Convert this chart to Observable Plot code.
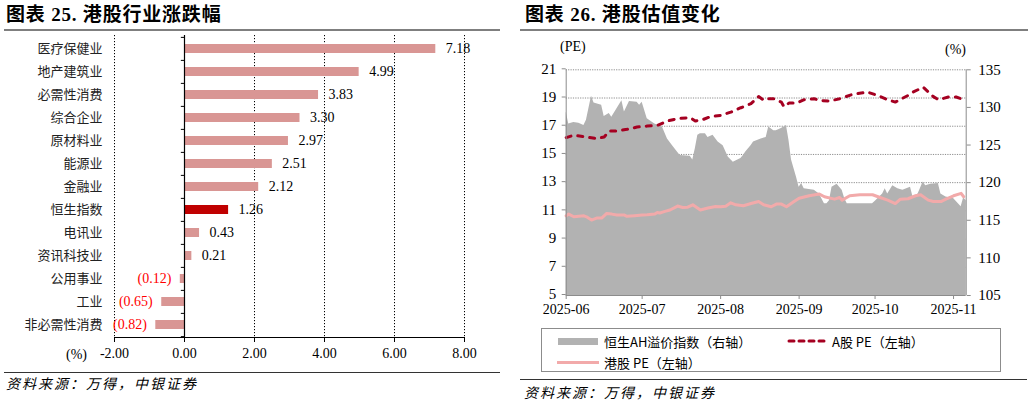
<!DOCTYPE html>
<html><head><meta charset="utf-8">
<script src="https://cdn.jsdelivr.net/npm/d3@7"></script>
<script src="https://cdn.jsdelivr.net/npm/@observablehq/plot@0.6"></script>
<style>
html,body{margin:0;padding:0;background:#fff;}
#page{position:relative;width:1032px;height:405px;overflow:hidden;background:#fff;font-family:"Noto Sans CJK SC",sans-serif;}
.abs{position:absolute;white-space:nowrap;}
.title{font-family:"Liberation Serif","Noto Sans CJK SC",serif;font-weight:bold;font-size:19px;letter-spacing:0.8px;color:#000;line-height:19px;}
.hr{position:absolute;height:0;}
.cap{font-family:"Noto Sans CJK SC",sans-serif;font-style:italic;font-size:14px;letter-spacing:2px;color:#000;line-height:14px;}
.serif{font-family:"Liberation Serif",serif;font-size:14px;color:#000;line-height:14px;}
#legend{position:absolute;left:541px;top:328px;width:460px;height:44px;border:1px solid #8c8c8c;box-sizing:border-box;}
.lg{position:absolute;font-size:13px;line-height:13px;color:#000;white-space:nowrap;}
</style></head>
<body><div id="page">
<div id="leftChart" class="abs" style="left:0;top:0"></div>
<div id="rightChart" class="abs" style="left:520px;top:33px"></div>
<div class="abs title" style="left:6px;top:5px">图表 25. 港股行业涨跌幅</div>
<div class="abs title" style="left:525px;top:5px">图表 26. 港股估值变化</div>
<div class="hr" style="left:4px;top:29px;width:496px;border-top:2px solid #7f7f7f"></div>
<div class="hr" style="left:520px;top:29px;width:508px;border-top:2px solid #7f7f7f"></div>
<div class="abs serif" style="left:66px;top:348px">(%)</div>
<div class="abs serif" style="left:560px;top:40px">(PE)</div>
<div class="abs serif" style="left:945px;top:43px">(%)</div>
<div class="hr" style="left:4px;top:372px;width:496px;border-top:1px solid #333"></div>
<div class="hr" style="left:520px;top:379px;width:507px;border-top:1px solid #333"></div>
<div class="abs cap" style="left:6px;top:376px">资料来源：万得，中银证券</div>
<div class="abs cap" style="left:524px;top:385px">资料来源：万得，中银证券</div>
<div id="legend">
  <div class="abs" style="left:16px;top:9px;width:40px;height:7px;background:#b2b2b2"></div>
  <div class="lg" style="left:62px;top:6px">恒生AH溢价指数（右轴）</div>
  <svg class="abs" style="left:244px;top:8px" width="46" height="8"><line x1="3" y1="4" x2="43" y2="4" stroke="#a50021" stroke-width="3" stroke-dasharray="5,5" stroke-linecap="round"/></svg>
  <div class="lg" style="left:290px;top:6px">A股 PE（左轴）</div>
  <div class="abs" style="left:15px;top:32px;width:42px;height:3px;background:#f2aaaa"></div>
  <div class="lg" style="left:62px;top:27px">港股 PE（左轴）</div>
</div>
</div>
<script>
// ---------- Left chart data ----------
const industries = ["医疗保健业","地产建筑业","必需性消费","综合企业","原材料业","能源业","金融业","恒生指数","电讯业","资讯科技业","公用事业","工业","非必需性消费"];
const changes = [7.18,4.99,3.83,3.30,2.97,2.51,2.12,1.26,0.43,0.21,-0.12,-0.65,-0.82];
const highlight = "恒生指数";
const xTicksLeft = [-2,0,2,4,6,8];
const gridLeft = [-2,2,4,6,8];

// ---------- Right chart data ----------
const ahDates = ["2025-06-01","2025-06-02","2025-06-04","2025-06-06","2025-06-08","2025-06-09","2025-06-11","2025-06-12","2025-06-15","2025-06-16","2025-06-18","2025-06-19","2025-06-21","2025-06-23","2025-06-24","2025-06-26","2025-06-29","2025-06-30","2025-07-01","2025-07-03","2025-07-06","2025-07-09","2025-07-11","2025-07-13","2025-07-16","2025-07-20","2025-07-21","2025-07-22","2025-07-23","2025-07-24","2025-07-26","2025-07-27","2025-07-29","2025-07-31","2025-08-02","2025-08-04","2025-08-06","2025-08-09","2025-08-10","2025-08-11","2025-08-13","2025-08-14","2025-08-17","2025-08-19","2025-08-20","2025-08-22","2025-08-23","2025-08-25","2025-08-27","2025-08-28","2025-08-29","2025-08-31","2025-09-01","2025-09-02","2025-09-03","2025-09-07","2025-09-09","2025-09-11","2025-09-12","2025-09-13","2025-09-14","2025-09-16","2025-09-18","2025-09-19","2025-09-20","2025-09-30","2025-10-01","2025-10-04","2025-10-05","2025-10-06","2025-10-08","2025-10-10","2025-10-12","2025-10-15","2025-10-16","2025-10-18","2025-10-20","2025-10-21","2025-10-23","2025-10-26","2025-10-27","2025-10-29","2025-11-01","2025-11-04","2025-11-05","2025-11-06"];
const ahValues = [129.4,127.8,128.0,127.9,127.6,128.3,131.5,130.6,130.3,128.8,129.2,128.7,129.8,130.9,129.4,130.8,130.7,130.3,130.7,128.5,127.8,127.4,125.8,124.9,123.6,123.5,123.0,124.5,126.3,126.5,126.5,126.0,126.3,125.4,124.9,123.4,122.7,123.2,123.6,124.1,124.9,125.4,125.8,126.0,127.4,126.9,126.9,127.2,127.6,125.6,123.0,120.7,119.4,119.9,119.2,119.0,118.5,117.2,117.2,117.6,119.4,119.8,119.0,117.9,117.2,117.2,117.5,118.5,119.2,118.5,119.6,119.2,119.0,119.4,118.1,118.5,120.1,119.6,119.8,119.9,118.5,118.1,117.9,116.8,118.0,117.6];

const aDates = ["2025-06-01","2025-06-04","2025-06-09","2025-06-13","2025-06-16","2025-06-18","2025-06-21","2025-06-25","2025-06-29","2025-07-03","2025-07-07","2025-07-11","2025-07-15","2025-07-20","2025-07-22","2025-07-25","2025-07-28","2025-08-01","2025-08-05","2025-08-09","2025-08-13","2025-08-16","2025-08-18","2025-08-19","2025-08-22","2025-08-25","2025-08-26","2025-08-28","2025-08-31","2025-09-03","2025-09-07","2025-09-09","2025-09-13","2025-09-17","2025-09-22","2025-09-28","2025-10-02","2025-10-06","2025-10-09","2025-10-14","2025-10-16","2025-10-20","2025-10-24","2025-10-26","2025-10-30","2025-11-02","2025-11-05"];
const aPE = [16.19,16.36,16.24,16.12,16.24,16.66,16.66,16.78,16.94,17.01,17.06,17.37,17.54,17.61,17.37,17.47,17.68,17.77,18.0,18.31,18.6,19.1,18.85,18.95,18.95,18.71,18.38,18.64,18.64,18.88,18.95,18.83,18.78,18.95,19.25,19.42,19.18,18.88,18.71,19.18,19.42,19.77,19.1,18.88,19.07,19.07,18.88];

const hkDates = ["2025-06-01","2025-06-02","2025-06-04","2025-06-08","2025-06-09","2025-06-11","2025-06-13","2025-06-15","2025-06-17","2025-06-19","2025-06-21","2025-06-24","2025-06-25","2025-06-28","2025-07-01","2025-07-03","2025-07-06","2025-07-07","2025-07-08","2025-07-10","2025-07-12","2025-07-15","2025-07-17","2025-07-19","2025-07-21","2025-07-24","2025-07-27","2025-07-30","2025-08-01","2025-08-03","2025-08-05","2025-08-07","2025-08-10","2025-08-13","2025-08-16","2025-08-18","2025-08-21","2025-08-23","2025-08-25","2025-08-27","2025-08-30","2025-09-01","2025-09-05","2025-09-09","2025-09-11","2025-09-15","2025-09-17","2025-09-18","2025-09-21","2025-09-25","2025-09-30","2025-10-03","2025-10-06","2025-10-09","2025-10-11","2025-10-14","2025-10-17","2025-10-19","2025-10-22","2025-10-24","2025-10-27","2025-10-29","2025-11-01","2025-11-04","2025-11-05"];
const hkPE = [10.65,10.77,10.58,10.65,10.58,10.35,10.49,10.49,10.82,10.77,10.70,10.70,10.61,10.65,10.70,10.72,10.77,10.89,10.85,10.96,11.06,11.34,11.24,11.26,11.43,11.06,11.20,11.31,11.30,11.33,11.57,11.43,11.36,11.52,11.66,11.43,11.29,11.48,11.48,11.29,11.66,11.90,12.07,12.19,12.0,11.83,11.95,11.76,12.07,12.14,12.14,11.95,11.76,11.52,11.83,11.86,12.07,12.14,11.76,11.66,11.66,11.83,12.07,12.24,12.0];

const leftTicksR = [5,7,9,11,13,15,17,19,21];
const rightTicksR = [105,110,115,120,125,130,135];
const xStart = "2025-06-01", xEnd = "2025-11-06";

// ---------- Left chart ----------
const leftData = industries.map((c,i)=>({cat:c, v:changes[i]}));
const step = 302/industries.length;
const left = Plot.plot({
  width: 516, height: 372,
  marginTop: 35, marginBottom: 35, marginLeft: 114, marginRight: 52,
  style: {background:"transparent", fontFamily:"Liberation Serif", fontSize:"14px", color:"#000"},
  x: {domain:[-2,8]},
  y: {domain: industries, paddingInner: 0.62, paddingOuter: 0.31, axis: null},
  marks: [
    Plot.ruleX(gridLeft, {stroke:"#000", strokeWidth:1, strokeDasharray:"1.2,1.8"}),
    Plot.barX(leftData.filter(d=>d.cat!==highlight), {x:"v", y:"cat", fill:"#d99694"}),
    Plot.barX(leftData.filter(d=>d.cat===highlight), {x:"v", y:"cat", fill:"#c00000"}),
    Plot.ruleX([0], {stroke:"#000", strokeWidth:1.2}),
    Plot.ruleY(industries, {y:d=>d, x1:-0.09, x2:0, dy:-step/2, stroke:"#000"}),
    Plot.ruleY(industries.slice(-1), {y:d=>d, x1:-0.09, x2:0, dy:step/2, stroke:"#000"}),
    Plot.frame({anchor:"bottom", stroke:"#000"}),
    Plot.text(industries, {y:d=>d, frameAnchor:"left", dx:-12, textAnchor:"end", fontFamily:"Noto Sans CJK SC", fontSize:13, fill:"#222"}),
    Plot.text(leftData.filter(d=>d.v>=0), {x:"v", y:"cat", text:d=>d.v.toFixed(2), dx:10, textAnchor:"start", fill:"#000", fontSize:14}),
    Plot.text(leftData.filter(d=>d.v<0), {x:"v", y:"cat", text:d=>"("+Math.abs(d.v).toFixed(2)+")", dx:-9, textAnchor:"end", fill:"#ff0000", fontSize:14}),
    Plot.axisX({ticks: xTicksLeft, tickFormat: d=>d.toFixed(2), tickSize:5, tickPadding:6, label:null, stroke:"#000", fill:"#000", fontSize:14})
  ]
});
document.getElementById("leftChart").appendChild(left);

// ---------- Right chart ----------
const L = [5,21], R = [105,135];
const r2l = v => L[0] + (v - R[0])*(L[1]-L[0])/(R[1]-R[0]);
const l2r = v => R[0] + (v - L[0])*(R[1]-R[0])/(L[1]-L[0]);
const parse = d3.utcParse("%Y-%m-%d");
const ah = ahDates.map((d,i)=>({date:parse(d), v:ahValues[i]}));
const aS = aDates.map((d,i)=>({date:parse(d), v:aPE[i]}));
const hkS = hkDates.map((d,i)=>({date:parse(d), v:hkPE[i]}));
const gridCol = "#8c8c8c";
const right = Plot.plot({
  width: 512, height: 285,
  marginTop: 36.3, marginBottom: 23, marginLeft: 45.7, marginRight: 66.3,
  style: {background:"transparent", fontFamily:"Liberation Serif", fontSize:"14px", color:"#000"},
  x: {type:"utc", domain:[parse(xStart), parse(xEnd)]},
  y: {domain: L},
  marks: [
    Plot.ruleY(leftTicksR.slice(1), {stroke:gridCol, strokeWidth:1, strokeDasharray:"1.2,1.2"}),
    Plot.areaY(ah, {x:"date", y1:L[0], y2:d=>r2l(d.v), fill:"#b2b2b2", curve:"linear"}),
    Plot.lineY(hkS, {x:"date", y:"v", stroke:"#f2aaaa", strokeWidth:3}),
    Plot.lineY(aS, {x:"date", y:"v", stroke:"#a50021", strokeWidth:3, strokeDasharray:"5,7", strokeLinecap:"round"}),
    Plot.ruleX([parse(xStart)], {stroke:gridCol}),
    Plot.ruleX([parse(xEnd)], {stroke:gridCol}),
    Plot.ruleY([L[0]], {stroke:gridCol}),
    Plot.axisY({ticks: leftTicksR, tickSize:4, tickPadding:6, label:null, stroke:gridCol, fill:"#000", fontSize:15, dy:-1}),
    Plot.axisY({anchor:"right", ticks: rightTicksR.map(r2l), tickFormat: d=>String(Math.round(l2r(d))), tickSize:4, tickPadding:8, label:null, stroke:gridCol, fill:"#000", fontSize:15}),
    Plot.axisX({ticks: d3.utcMonth.every(1), tickFormat: d3.utcFormat("%Y-%m"), tickSize:4, tickPadding:5, label:null, stroke:gridCol, fill:"#000", fontSize:14})
  ]
});
document.getElementById("rightChart").appendChild(right);
</script>
</body></html>
